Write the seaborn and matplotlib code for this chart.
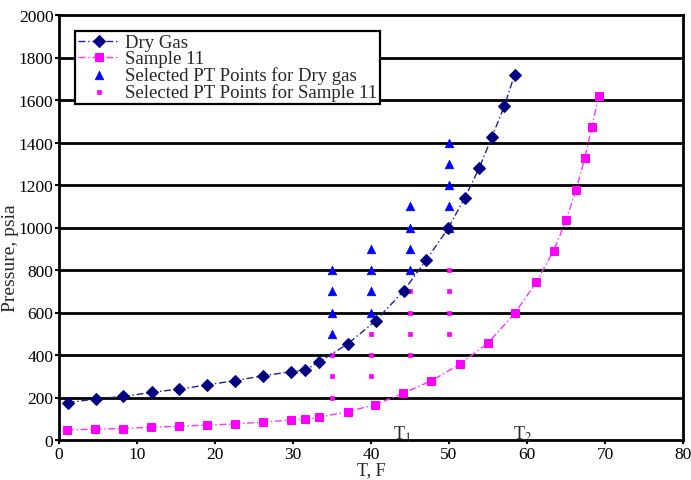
import matplotlib
matplotlib.use("Agg")
import matplotlib.pyplot as plt
import seaborn as sns
import pandas as pd

# ---- data ----
dry_T = [1.1, 4.7, 8.2, 11.9, 15.4, 19.0, 22.6, 26.2, 29.8, 31.6, 33.3, 37.0,
         40.6, 44.2, 47.1, 49.9, 52.0, 53.9, 55.5, 57.1, 58.4]
dry_P = [176, 193, 205, 224, 240, 259, 280, 302, 322, 330, 366, 452,
         561, 702, 848, 997, 1138, 1282, 1426, 1572, 1718]

s11_T = [1.0, 4.6, 8.2, 11.8, 15.4, 19.0, 22.6, 26.1, 29.7, 31.6, 33.3, 37.0,
         40.5, 44.1, 47.7, 51.4, 55.0, 58.5, 61.2, 63.4, 65.0, 66.3, 67.4, 68.3, 69.2]
s11_P = [47, 51, 54, 60, 65, 70, 76, 84, 94, 98, 106, 134,
         165, 220, 278, 357, 456, 600, 743, 890, 1033, 1177, 1326, 1472, 1619]

sel_dry_T = [35, 35, 35, 35, 40, 40, 40, 40, 45, 45, 45, 45, 50, 50, 50, 50, 50]
sel_dry_P = [800, 700, 600, 500, 900, 800, 700, 600, 1100, 1000, 900, 800,
             1400, 1300, 1200, 1100, 1000]

sel_s11_T = [35, 35, 35, 40, 40, 40, 45, 45, 45, 45, 50, 50, 50, 50]
sel_s11_P = [400, 300, 200, 500, 400, 300, 700, 600, 500, 400, 800, 700, 600, 500]

x_ticks = [0, 10, 20, 30, 40, 50, 60, 70, 80]
y_ticks = [0, 200, 400, 600, 800, 1000, 1200, 1400, 1600, 1800, 2000]

# ---- style ----
sns.set_style("ticks")
plt.rcParams["font.family"] = ["Liberation Serif", "DejaVu Serif"]
plt.rcParams["mathtext.fontset"] = "stix"

W, H = 691, 481
fig = plt.figure(figsize=(W / 100, H / 100), dpi=100)
ax = fig.add_axes([59 / W, 1 - 441 / H, (683 - 59) / W, (441 - 16) / H])

df_dry = pd.DataFrame({"T": dry_T, "P": dry_P})
df_s11 = pd.DataFrame({"T": s11_T, "P": s11_P})
df_sd = pd.DataFrame({"T": sel_dry_T, "P": sel_dry_P})
df_ss = pd.DataFrame({"T": sel_s11_T, "P": sel_s11_P})

# grid lines
for yv in y_ticks[1:-1]:
    ax.axhline(yv, color="black", lw=2.0, zorder=1)

sns.lineplot(data=df_dry, x="T", y="P", ax=ax, color="#20209a", lw=1.0,
             linestyle=(0, (5, 2, 1, 2)), marker="D", markersize=6.5,
             markerfacecolor="#000080", markeredgecolor="#000080",
             label="Dry Gas", sort=False, estimator=None, zorder=4)
sns.lineplot(data=df_s11, x="T", y="P", ax=ax, color="#ff33ff", lw=1.0,
             linestyle=(0, (5, 2, 1, 2)), marker="s", markersize=6,
             markerfacecolor="#ff00ff", markeredgecolor="#ff00ff",
             label="Sample 11", sort=False, estimator=None, zorder=4)
sns.scatterplot(data=df_sd, x="T", y="P", ax=ax, color="#0000ff", marker="^",
                s=38, edgecolor="#0000ff", linewidth=0.5,
                label="Selected PT Points for Dry gas", zorder=3)
sns.scatterplot(data=df_ss, x="T", y="P", ax=ax, color="#ff00ff", marker="s",
                s=12, edgecolor="#ff00ff", linewidth=0.5,
                label="Selected PT Points for Sample 11", zorder=3)

ax.set_xlim(0, 80)
ax.set_ylim(0, 2000)
ax.set_xticks(x_ticks)
ax.set_yticks(y_ticks)
ax.tick_params(axis="both", labelsize=12.5, length=3, width=1.5, direction="out",
               colors="black", pad=1)
for sp in ax.spines.values():
    sp.set_visible(True)
    sp.set_linewidth(2.0)
    sp.set_color("black")

ax.set_xlabel("T, F", fontsize=13, labelpad=0)
ax.set_ylabel("Pressure, psia", fontsize=14)
ax.yaxis.set_label_coords(-0.064, 0.43)

ax.text(44.0, 6, r"T$_1$", fontsize=13, ha="center", va="baseline")
ax.text(59.5, 6, r"T$_2$", fontsize=13, ha="center", va="baseline")

leg = ax.legend(loc="upper left", bbox_to_anchor=(0.026, 0.962), fontsize=13.5,
                frameon=True, fancybox=False, edgecolor="black", framealpha=1,
                labelspacing=-0.05, handlelength=2.2, handletextpad=0.3,
                borderpad=0.15, borderaxespad=0)
leg.get_frame().set_linewidth(1.6)
leg.set_zorder(10)

fig.savefig("out.png", dpi=100)
